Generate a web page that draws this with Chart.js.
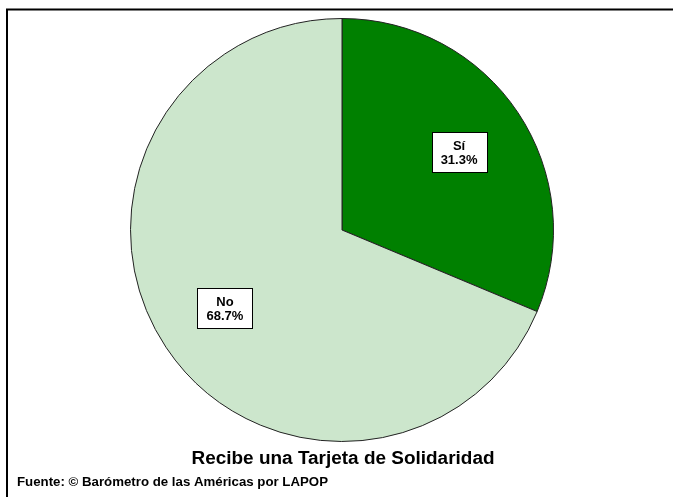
<!DOCTYPE html>
<html>
<head>
<meta charset="utf-8">
<script src="https://cdn.jsdelivr.net/npm/chart.js@4"></script>
<style>
  html, body { margin: 0; padding: 0; background: #fff; }
  #wrap { width: 673px; height: 497px; }
</style>
</head>
<body>
<div id="wrap"><canvas id="pie" width="673" height="497"></canvas></div>
<script>
// ---- data ------------------------------------------------------------------
const CATEGORIES = ['Sí', 'No'];
const PERCENTS   = [31.3, 68.7];
const TITLE      = 'Recibe una Tarjeta de Solidaridad';
const SOURCE     = 'Fuente: © Barómetro de las Américas por LAPOP';

const GREEN_DARK  = 'rgb(0, 128, 0)';
const GREEN_LIGHT = 'rgb(204, 230, 204)';
const FONT = '"Liberation Sans", Arial, sans-serif';

// draw text stretched horizontally to a target width (source art is wide-ish)
function wideText(ctx, text, x, y, font, width, align) {
  ctx.font = font;
  const w = ctx.measureText(text).width;
  const sx = width / w;
  ctx.save();
  const left = align === 'center' ? x - width / 2 : x;
  ctx.translate(left, y);
  ctx.scale(sx, 1);
  ctx.textAlign = 'left';
  ctx.fillText(text, 0, 0);
  ctx.restore();
}

// Boxed "name / pct%" labels inside each slice
const boxLabels = {
  id: 'boxLabels',
  afterDatasetsDraw(chart) {
    const ctx = chart.ctx;
    const meta = chart.getDatasetMeta(0);
    meta.data.forEach((arc, i) => {
      const { x, y, startAngle, endAngle, outerRadius } = arc.getProps(
        ['x', 'y', 'startAngle', 'endAngle', 'outerRadius'], true);
      const mid = (startAngle + endAngle) / 2;
      const r = outerRadius * 0.665;
      const cx = x + Math.cos(mid) * r;
      const cy = y + Math.sin(mid) * r;
      const w = 55, h = 40;
      ctx.save();
      ctx.fillStyle = '#fff';
      ctx.fillRect(Math.round(cx - w / 2) + 0.5, Math.round(cy - h / 2) + 0.5, w, h);
      ctx.strokeStyle = '#000';
      ctx.lineWidth = 1;
      ctx.strokeRect(Math.round(cx - w / 2) + 0.5, Math.round(cy - h / 2) + 0.5, w, h);
      ctx.fillStyle = '#000';
      ctx.font = 'bold 13px ' + FONT;
      ctx.textAlign = 'center';
      ctx.textBaseline = 'middle';
      ctx.fillText(CATEGORIES[i], cx, cy - 6);
      ctx.fillText(PERCENTS[i].toFixed(1) + '%', cx, cy + 8);
      ctx.restore();
    });
  },
  afterDraw(chart) {
    const ctx = chart.ctx;
    ctx.save();
    // frame: top and left lines only
    ctx.strokeStyle = '#000';
    ctx.lineWidth = 2;
    ctx.beginPath();
    ctx.moveTo(7, 497);
    ctx.lineTo(7, 9.5);
    ctx.lineTo(673, 9.5);
    ctx.stroke();
    ctx.fillStyle = '#000';
    ctx.textBaseline = 'alphabetic';
    wideText(ctx, TITLE, 343, 464, 'bold 18px ' + FONT, 303, 'center');
    wideText(ctx, SOURCE, 17, 486, 'bold 12px ' + FONT, 311, 'left');
    ctx.restore();
  }
};

new Chart(document.getElementById('pie').getContext('2d'), {
  type: 'pie',
  data: {
    labels: CATEGORIES,
    datasets: [{
      data: PERCENTS,
      backgroundColor: [GREEN_DARK, GREEN_LIGHT],
      borderColor: '#222',
      borderWidth: 1,
    }],
  },
  plugins: [boxLabels],
  options: {
    animation: false,
    responsive: false,
    layout: { padding: { top: 18, bottom: 55, left: 130, right: 119 } },
    plugins: {
      legend: { display: false },
      tooltip: { enabled: false },
      title: { display: false },
    },
  },
});
</script>
</body>
</html>
